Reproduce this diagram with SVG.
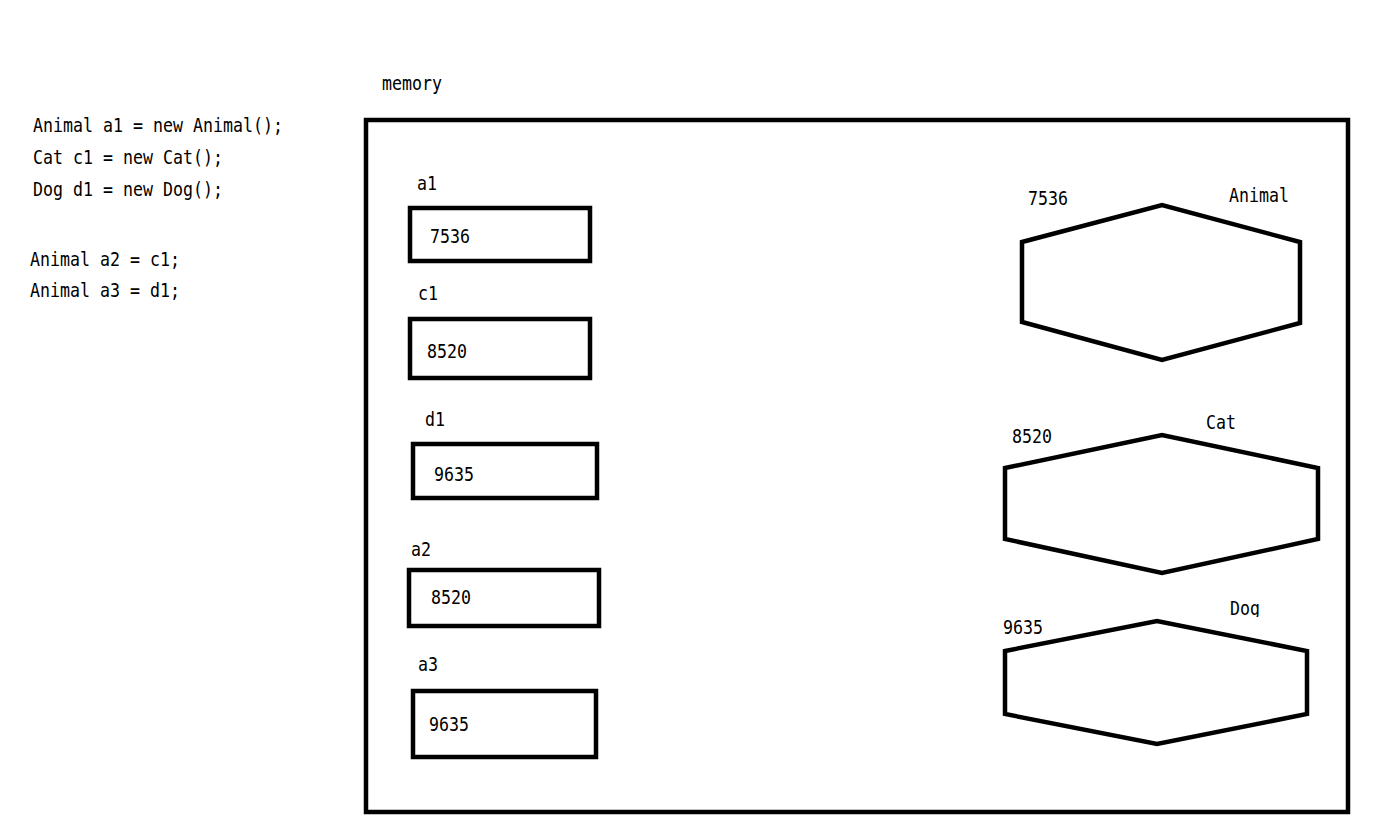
<svg xmlns="http://www.w3.org/2000/svg" width="1389" height="836" viewBox="0 0 1389 836">
<style>
text{font-family:"DejaVu Sans Mono","Liberation Mono",monospace;font-size:19.5px;fill:#000}
.box{fill:none;stroke:#000;stroke-width:4.5}
.hex{fill:none;stroke:#000;stroke-width:4.5;stroke-linejoin:miter}
</style>
<defs>
<clipPath id="dogclip"><rect x="1200" y="590" width="100" height="27"/></clipPath>
</defs>
<rect width="1389" height="836" fill="#fff"/>
<g id="code">
<text x="33" y="132" textLength="250" lengthAdjust="spacingAndGlyphs">Animal a1 = new Animal();</text>
<text x="33" y="164" textLength="190" lengthAdjust="spacingAndGlyphs">Cat c1 = new Cat();</text>
<text x="33" y="196" textLength="190" lengthAdjust="spacingAndGlyphs">Dog d1 = new Dog();</text>
<text x="30" y="266" textLength="150" lengthAdjust="spacingAndGlyphs">Animal a2 = c1;</text>
<text x="30" y="297" textLength="150" lengthAdjust="spacingAndGlyphs">Animal a3 = d1;</text>
</g>
<g id="memory">
<text x="382" y="90" textLength="60" lengthAdjust="spacingAndGlyphs">memory</text>
<rect class="box" x="366" y="120" width="982" height="692" stroke-width="5"/>
</g>
<g id="var-a1">
<text x="417" y="190" textLength="20" lengthAdjust="spacingAndGlyphs">a1</text>
<rect class="box" x="410" y="208" width="180" height="53"/>
<text x="430" y="243" textLength="40" lengthAdjust="spacingAndGlyphs">7536</text>
</g>
<g id="var-c1">
<text x="418" y="300" textLength="20" lengthAdjust="spacingAndGlyphs">c1</text>
<rect class="box" x="410" y="319" width="180" height="59"/>
<text x="427" y="358" textLength="40" lengthAdjust="spacingAndGlyphs">8520</text>
</g>
<g id="var-d1">
<text x="425" y="426" textLength="20" lengthAdjust="spacingAndGlyphs">d1</text>
<rect class="box" x="413" y="444" width="184" height="54"/>
<text x="434" y="481" textLength="40" lengthAdjust="spacingAndGlyphs">9635</text>
</g>
<g id="var-a2">
<text x="411" y="556" textLength="20" lengthAdjust="spacingAndGlyphs">a2</text>
<rect class="box" x="409" y="570" width="190" height="56"/>
<text x="431" y="604" textLength="40" lengthAdjust="spacingAndGlyphs">8520</text>
</g>
<g id="var-a3">
<text x="418" y="671" textLength="20" lengthAdjust="spacingAndGlyphs">a3</text>
<rect class="box" x="413" y="691" width="183" height="66"/>
<text x="429" y="731" textLength="40" lengthAdjust="spacingAndGlyphs">9635</text>
</g>
<g id="obj-animal">
<text x="1028" y="205" textLength="40" lengthAdjust="spacingAndGlyphs">7536</text>
<text x="1229" y="202" textLength="60" lengthAdjust="spacingAndGlyphs">Animal</text>
<polygon class="hex" points="1022,242 1162,205 1300,242 1300,323 1162,360 1022,322"/>
</g>
<g id="obj-cat">
<text x="1012" y="443" textLength="40" lengthAdjust="spacingAndGlyphs">8520</text>
<text x="1206" y="429" textLength="30" lengthAdjust="spacingAndGlyphs">Cat</text>
<polygon class="hex" points="1005,468 1162,435 1318,468 1318,539 1162,573 1005,539"/>
</g>
<g id="obj-dog">
<text x="1003" y="634" textLength="40" lengthAdjust="spacingAndGlyphs">9635</text>
<text x="1230" y="615" textLength="30" lengthAdjust="spacingAndGlyphs" clip-path="url(#dogclip)">Dog</text>
<polygon class="hex" points="1005,651 1157,621 1307,651 1307,714 1157,744 1005,714"/>
</g>
<g id="connectors"></g>
</svg>
